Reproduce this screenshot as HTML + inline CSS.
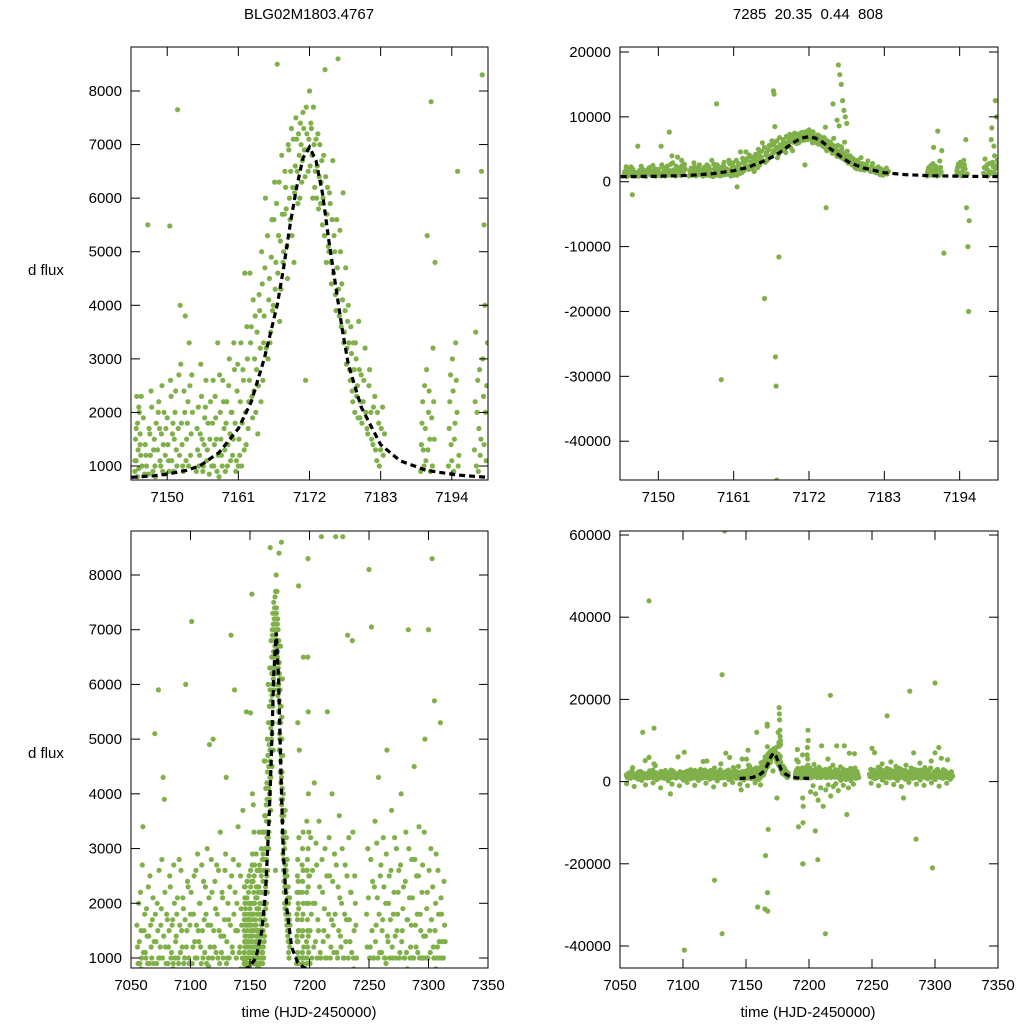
<!DOCTYPE html>
<html><head><meta charset="utf-8">
<style>
html,body{margin:0;padding:0;background:#fff;width:1024px;height:1024px;overflow:hidden;}
svg{display:block;font-family:"Liberation Sans",sans-serif;}
text{font-size:15px;fill:#000;}
</style></head>
<body>
<svg id="chart" width="1024" height="1024" viewBox="0 0 1024 1024">
<rect width="1024" height="1024" fill="#fff"/>
<text x="309" y="19" text-anchor="middle">BLG02M1803.4767</text>
<text x="808" y="19" text-anchor="middle" xml:space="preserve">7285  20.35  0.44  808</text>
<text x="28" y="275">d flux</text>
<text x="28" y="758">d flux</text>
<text x="309" y="1017" text-anchor="middle">time (HJD-2450000)</text>
<text x="808" y="1017" text-anchor="middle">time (HJD-2450000)</text>
</svg>
<script>
const peakObs = [
7145.0,900,7145.1,1500,7145.2,1100,7145.3,2300,7145.4,1800,7145.5,1300,7145.6,950,7145.7,2000,7145.8,1600,7145.9,1200,7146.0,2300,
7146.5,850,7146.6,1400,7146.8,1000,7147.0,5500,7147.2,1700,7147.4,1200,7147.6,2100,7147.8,900,7148.0,1500,7148.2,800,
7148.5,1300,7148.6,2000,7148.8,1700,7149.0,1000,7149.2,2500,7149.4,1400,7149.6,850,7149.8,1700,
7150.0,1900,7150.2,1100,7150.4,5480,7150.6,2300,7150.8,1600,7151.0,900,7151.2,2000,7151.4,1300,7151.6,7650,7151.8,2700,
7152.0,4000,7152.2,1800,7152.4,1000,7152.6,2400,7152.8,3800,7153.0,1500,7153.2,2200,7153.4,3300,7153.6,1200,7153.8,2700,
7154.5,900,7154.6,1700,7154.8,2100,7155.0,1200,7155.2,2900,7155.4,1500,7155.6,1000,7155.8,1900,7156.0,2600,7156.2,1300,
7156.5,850,7156.7,2200,7157.0,1800,7157.2,1000,7157.4,2300,7157.6,1500,7157.8,3300,7158.0,800,7158.2,2000,7158.4,1200,7158.6,2600,7158.8,1700,
7159.0,900,7159.2,2200,7159.4,1400,7159.6,3000,7159.8,1100,7160.0,2000,7160.2,1500,7160.4,2800,7160.6,900,7160.8,2400,7161.0,1000,
7161.2,1200,7161.4,3300,7161.6,1800,7161.8,2600,7162.0,4600,7162.2,1400,7162.4,3000,7162.6,2200,7162.8,4600,7163.0,3600,7163.2,1900,
7163.4,2400,7163.6,3800,7163.8,2800,7164.0,1600,7164.2,4200,7164.4,3200,7164.6,5000,7164.8,2600,7165.0,3800,7165.2,6000,
7165.6,3000,7165.8,4500,7166.0,3500,7166.2,5600,7166.4,4000,7166.6,6300,7166.8,4800,7167.0,8500,7167.2,5300,7167.4,3700,7167.6,4300,7167.8,5700,
7168.0,5000,7168.2,6500,7168.4,5800,7168.6,4500,7168.8,6900,7169.0,5600,7169.2,7300,7169.4,6200,7169.6,4800,7169.8,6600,
7170.0,7100,7170.2,5900,7170.4,6800,7170.6,7400,7170.8,6300,7171.0,7600,7171.2,6900,7171.4,2600,7171.6,7200,7171.8,6500,
7172.0,8000,7172.2,7400,7172.4,6800,7172.6,7700,7172.8,6200,7173.0,7100,7173.2,6600,7173.4,5800,7173.6,7000,7173.8,6300,
7174.0,5500,7174.2,6800,7174.4,8400,7174.6,4800,7174.8,6200,7175.0,5000,7175.2,5900,7175.4,4400,7175.6,6700,7175.8,5300,
7176.0,4200,7176.2,5600,7176.4,8600,7176.6,3800,7176.8,5000,7177.0,4400,7177.2,6100,7177.4,3500,7177.6,4700,7177.8,3200,
7178.0,4000,7178.2,2800,7178.4,3600,7178.6,2400,7178.8,3300,7179.0,2000,7179.2,3000,7179.4,2500,7179.6,3700,7179.8,1900,
7180.0,2700,7180.3,2200,7180.6,3200,7180.9,1700,7181.2,2500,7181.5,2000,7181.8,1400,7182.1,2300,7182.4,1100,7182.7,1800,7183.0,1300,7183.3,2100,7183.6,1600,
7189.2,900,7189.4,1800,7189.6,1300,7189.8,2500,7190.0,1100,7190.2,5300,7190.4,2000,7190.6,1500,7190.8,7800,7191.0,1000,7191.2,2200,7191.4,4800,
7193.5,1000,7193.7,2200,7193.9,1400,7194.1,3000,7194.3,900,7194.5,1800,7194.7,2600,7194.9,6500,7195.1,1200,
7197.5,1300,7197.7,3500,7197.9,2000,7198.1,900,7198.3,2800,7198.5,1500,7198.7,8300,7198.9,2300,7199.1,4000,7199.3,1100,7199.5,3300,7199.0,5500,7198.6,6500
];
const peakObs2 = [
7145.0,1100,7145.2,1700,7145.4,800,7145.6,2100,7145.8,1400,7146.1,1000,7146.3,1900,7146.7,1200,7147.1,850,7147.3,1600,7147.5,2400,7147.9,1300,7148.1,1000,7148.3,1800,7148.7,2200,7148.9,1100,7149.1,1600,7149.3,900,7149.5,2000,7149.7,1200,
7150.1,1400,7150.3,900,7150.5,2600,7150.7,1100,7150.9,1800,7151.1,1500,7151.3,2400,7151.5,1000,7151.7,1700,7151.9,1200,7152.1,2900,7152.3,1400,7152.5,900,7152.7,2000,7152.9,1100,7153.1,1800,7153.3,1000,7153.5,2500,7153.7,1600,7153.9,2000,
7154.7,1300,7154.9,1000,7155.1,1600,7155.3,2300,7155.5,900,7155.7,1400,7155.9,2100,7156.1,1100,7156.3,1800,7156.6,1500,7156.9,1000,7157.1,2600,7157.3,1400,7157.5,1900,7157.7,900,7157.9,1200,7158.1,2700,7158.3,1500,7158.5,1000,7158.7,2200,7158.9,1300,
7159.1,1800,7159.3,1000,7159.5,2500,7159.7,1600,7159.9,2000,7160.1,1200,7160.3,3300,7160.5,1800,7160.7,1100,7160.9,2900,7161.1,1500,7161.3,2200,7161.5,1000,7161.7,2800,7161.9,1300,7162.1,2000,7162.3,3600,7162.5,1700,7162.7,2600,7162.9,3300,
7163.1,2300,7163.3,4100,7163.5,3000,7163.7,2000,7163.9,3500,7164.1,2500,7164.3,3900,7164.5,2200,7164.7,4400,7164.9,3300,7165.1,4700,7165.3,3200,7165.5,5300,7165.7,4100,7165.9,3300,7166.1,4900,7166.3,3900,7166.5,5600,7166.7,4300,7166.9,5900,
7167.1,4600,7167.3,6300,7167.5,5200,7167.7,6800,7167.9,4800,7168.1,5700,7168.3,6200,7168.5,5100,7168.7,7000,7168.9,6000,7169.1,6500,7169.3,5300,7169.5,7100,7169.7,6100,7169.9,7500,7170.1,6500,7170.3,7200,7170.5,6000,7170.7,7000,7170.9,6700,
7171.1,7300,7171.3,6400,7171.5,7700,7171.7,6900,7171.9,7100,7172.1,6600,7172.3,7300,7172.5,6000,7172.7,7000,7172.9,6500,7173.1,6000,7173.3,7200,7173.5,6400,7173.7,5900,7173.9,6700,7174.1,6000,7174.3,5300,7174.5,6400,7174.7,5700,7174.9,5100,
7175.1,6100,7175.3,4800,7175.5,5600,7175.7,4600,7175.9,5000,7176.1,3900,7176.3,4700,7176.5,4300,7176.7,5400,7176.9,3600,7177.1,4100,7177.3,3300,7177.5,3900,7177.7,2900,7177.9,3700,7178.1,3300,7178.3,2600,7178.5,3100,7178.7,2200,7178.9,2800,
7179.1,3300,7179.3,2300,7179.5,1900,7179.7,2800,7179.9,2200,7180.1,1800,7180.4,2600,7180.7,2000,7181.0,1600,7181.3,2800,7181.6,1500,7181.9,2100,7182.2,1300,7182.5,2000,7182.8,1000,7183.1,1700,7183.4,1200,
7189.3,1400,7189.5,2200,7189.7,1000,7189.9,1700,7190.1,2800,7190.3,1300,7190.5,2400,7190.7,900,7190.9,1900,7191.1,3200,7191.3,1500,7193.6,1700,7193.8,2700,7194.0,1100,7194.2,2400,7194.4,1500,7194.6,3300,7194.8,2000,7195.0,1000,
7197.6,2200,7197.8,1000,7198.0,2600,7198.2,1700,7198.4,1200,7198.8,3000,7199.0,1400,7199.2,2000,7199.4,2500
];
const peakOutliers = [
7165.5,-18000,7166.8,14000,7166.9,13500,7167.1,-27000,7167.2,-31500,7167.3,-46000,7167.6,-11600,7159.2,-30500,7158.5,12000,
7176.3,18000,7176.5,16500,7176.7,15000,7176.9,12500,7177.1,11000,7177.3,10000,7176.1,9500,7177.5,9000,7175.5,12000,7174.5,-4000,
7191.7,-11000,7195.3,-20000,7195.2,-10000,7195.4,-6000,7195.0,-4000,7199.2,12500,7199.4,10000,7146.2,-2000,7161.5,-800
];
const seasonObs = [
7055,1600,7056,900,7057,1300,7058,2200,7059,1000,7060,3400,7061,1500,7062,1100,7063,1900,7064,900,7065,1400,7066,2500,7067,1200,7068,1700,7069,900,
7070,5100,7071,1300,7072,2000,7073,5900,7074,1000,7075,1600,7076,2800,7077,4300,7078,3900,7079,1200,7080,1800,7081,900,7082,1500,7083,2300,7084,1100,
7085,1700,7086,2700,7087,1000,7088,1400,7089,2100,7090,900,7091,1600,7092,2600,7093,1200,7094,1900,7095,1000,7096,6000,7097,1500,7098,2300,7099,900,
7100,1800,7101,7150,7102,1200,7103,2500,7104,1000,7105,1600,7106,2900,7107,1300,7108,2000,7109,900,7110,1500,7111,2400,7112,1100,7113,1800,7114,3000,
7115,1000,7116,4900,7117,1600,7118,2200,7119,5000,7120,1200,7121,1900,7122,2700,7123,1000,7124,1500,7125,3300,7126,1100,7127,2100,7128,1400,7129,2600,
7130,4300,7131,1000,7132,1700,7133,2300,7134,6900,7135,1200,7136,2800,7137,5900,7138,1500,7139,2000,7140,3400,7141,1100,7142,2500,7143,1600,7144,3700,
7200,2500,7200.5,1500,7201,3200,7202,1000,7203,2000,7204,4200,7205,1300,7206,2700,7207,1700,7208,3500,7209,1100,7210,8700,7211,2200,7212,1500,
7213,3000,7214,1000,7215,5500,7216,1800,7217,2500,7218,1200,7219,4000,7220,1600,7221,2900,7222,8700,7223,1100,7224,2300,7225,3600,7226,1400,7227,2000,
7228,8700,7229,1000,7230,2700,7231,1700,7232,6900,7233,3200,7234,1300,7235,2200,7236,6800,7237,1000,7238,2500,7239,1600,
7248,1800,7249,3000,7250,8100,7251,1200,7252,7050,7253,2400,7254,1000,7255,3500,7256,1600,7257,2100,7258,4300,7259,1100,7260,2700,7261,1500,
7262,3200,7263,1000,7264,2000,7265,4800,7266,1300,7267,2500,7268,1700,7269,3700,7270,1000,7271,2200,7272,1400,7273,3000,7274,1800,7275,2600,
7276,1100,7277,4000,7278,1500,7279,2300,7280,1000,7281,3300,7282,1700,7283,7000,7284,2100,7285,1200,7286,2800,7287,1000,7288,4500,7289,1600,
7290,2500,7291,1100,7292,3400,7293,1800,7294,1000,7295,2700,7296,1400,7297,5000,7298,1000,7299,2200,7300,7000,7301,1500,7302,3000,7303,8300,
7304,1200,7305,5700,7306,2000,7307,1000,7308,2600,7309,1300,7310,5300,7311,1800,7312,1000,7313,2400,7314,1300
];
const seasonObs2 = [
7055.5,1200,7056.5,2000,7057.5,900,7058.5,1500,7059.5,2700,7060.5,1100,7061.5,1800,7062.5,1000,7063.5,1400,7064.5,2300,7065.5,900,7066.5,1600,7067.5,1000,7068.5,2100,7069.5,1300,7070.5,1800,7071.5,900,7072.5,1500,7073.5,2600,7074.5,1200,
7075.5,1900,7076.5,1000,7077.5,1400,7078.5,2200,7079.5,900,7080.5,1700,7081.5,1200,7082.5,2500,7083.5,1000,7084.5,1600,7085.5,900,7086.5,2000,7087.5,1300,7088.5,1800,7089.5,1000,7090.5,2800,7091.5,1100,7092.5,1500,7093.5,2100,7094.5,900,
7095.5,1700,7096.5,1200,7097.5,2400,7098.5,1000,7099.5,1600,7100.5,2200,7101.5,900,7102.5,1800,7103.5,1300,7104.5,2600,7105.5,1000,7106.5,1500,7107.5,2000,7108.5,1200,7109.5,2700,7110.5,1000,7111.5,1700,7112.5,2300,7113.5,900,7114.5,1600,
7115.5,2100,7116.5,1200,7117.5,2800,7118.5,1000,7119.5,1500,7120.5,2400,7121.5,1100,7122.5,1800,7123.5,2600,7124.5,900,7125.5,1400,7126.5,2200,7127.5,1000,7128.5,1700,7129.5,2900,7130.5,1300,7131.5,2000,7132.5,1000,7133.5,1600,7134.5,2500,
7135.5,1100,7136.5,1800,7137.5,2200,7138.5,1000,7139.5,1500,7140.5,2700,7141.5,1200,7142.5,1900,7143.5,1000,
7200.5,900,7201.5,1800,7202.5,2600,7203.5,1200,7204.5,2000,7205.5,3100,7206.5,1000,7207.5,1500,7208.5,2300,7209.5,1000,7210.5,2800,7211.5,1300,7212.5,1900,7213.5,1000,7214.5,2500,7215.5,1400,7216.5,3200,7217.5,1000,7218.5,1700,7219.5,2400,
7220.5,1100,7221.5,1800,7222.5,2700,7223.5,1000,7224.5,1500,7225.5,2100,7226.5,1200,7227.5,3000,7228.5,1000,7229.5,1800,7230.5,1300,7231.5,2500,7232.5,1000,7233.5,1700,7234.5,2200,7235.5,1100,7236.5,3300,7237.5,1500,7238.5,2000,7239.5,1000,
7248.5,1200,7249.5,2100,7250.5,1000,7251.5,2800,7252.5,1500,7253.5,1000,7254.5,2300,7255.5,1300,7256.5,3100,7257.5,1000,7258.5,1800,7259.5,2500,7260.5,1100,7261.5,1700,7262.5,2300,7263.5,1000,7264.5,2900,7265.5,1400,7266.5,2000,7267.5,1000,
7268.5,2600,7269.5,1200,7270.5,1800,7271.5,3200,7272.5,1000,7273.5,1500,7274.5,2200,7275.5,1000,7276.5,2700,7277.5,1300,7278.5,1900,7279.5,1000,7280.5,2400,7281.5,1100,7282.5,1700,7283.5,3000,7284.5,1000,7285.5,1600,7286.5,2100,7287.5,1000,
7288.5,2800,7289.5,1200,7290.5,1800,7291.5,2500,7292.5,1000,7293.5,1500,7294.5,2200,7295.5,1000,7296.5,3300,7297.5,1400,7298.5,1900,7299.5,1000,7300.5,2600,7301.5,1100,7302.5,1700,7303.5,2300,7304.5,1000,7305.5,1500,7306.5,2900,7307.5,1200,
7308.5,1800,7309.5,1000,7310.5,2100,7311.5,1300,7312.5,1000,7313.5,1600
];
const seasonObs3 = [
7055.25,-500,7058.25,800,7061.25,-1200,7064.25,600,7067.25,300,7070.25,-800,7073.25,1000,7076.25,-300,7079.25,500,7082.25,-1500,7085.25,800,7088.25,200,7091.25,-600,7094.25,900,7097.25,-1000,7100.25,400,7103.25,-200,7106.25,700,7109.25,-900,7112.25,300,
7115.25,850,7118.25,-400,7121.25,600,7124.25,-1300,7127.25,200,7130.25,900,7133.25,-700,7136.25,500,7139.25,-200,7142.25,800,7145.25,-600,7148.25,400,7151.25,-1000,7154.25,700,7157.25,-300,7160.25,500,
7201.25,-2500,7203.25,-1000,7205.25,-3000,7207.25,-4500,7209.25,-1500,7211.25,-6000,7213.25,-2000,7215.25,-800,7217.25,-3500,7219.25,-1200,7221.25,-500,7223.25,-2200,7225.25,300,7227.25,-900,7229.25,500,7231.25,-1500,7233.25,200,7235.25,-600,7237.25,800,
7249.25,-400,7252.25,700,7255.25,-1000,7258.25,400,7261.25,-300,7264.25,900,7267.25,-700,7270.25,300,7273.25,-1200,7276.25,600,7279.25,-200,7282.25,800,7285.25,-600,7288.25,400,7291.25,-900,7294.25,700,7297.25,-300,7300.25,500,7303.25,-1100,7306.25,800,7309.25,-400,7312.25,600
];
const seasonOutliers = [
7073,44000,7133,61000,7131,26000,7125,-24000,7101,-41000,7131,-37000,7165,-31000,7213,-37000,7207,-19000,7217,21000,
7280,22000,7300,24000,7298,-21000,7262,16000,7275,-4000,7205,-12000,7195,-20000,7077,13000,7068,12000,7090,-3000,7230,-8000,7285,-14000
];
const modelT = [7144.5,7148,7150,7153,7155,7158,7161,7163,7165,7167,7168,7169,7170,7171,7172,7173,7174,7175,7176,7177,7178,7180,7183,7186,7190,7195,7199.5];
const modelF = [790,820,850,920,1000,1250,1700,2200,3000,4000,4700,5500,6200,6750,6950,6700,6100,5200,4400,3600,2900,2100,1400,1100,920,830,790];
const modelTWide = [7145,7150,7155,7160,7163,7166,7168,7170,7172,7174,7176,7178,7181,7185,7190,7195,7200];
const modelFWide = [780,850,1000,1500,2200,3500,4700,6200,6950,6100,4400,2900,1900,1200,920,830,790];

const topLeftYTicks=[1000,2000,3000,4000,5000,6000,7000,8000];
const topXTicks=[7150,7161,7172,7183,7194];
const topRightYTicks=[-40000,-30000,-20000,-10000,0,10000,20000];
const botXTicks=[7050,7100,7150,7200,7250,7300,7350];
const botLeftYTicks=[1000,2000,3000,4000,5000,6000,7000,8000];
const botRightYTicks=[-40000,-20000,0,20000,40000,60000];

const NS="http://www.w3.org/2000/svg";
const svg=document.getElementById('chart');
function mk(tag,attrs,parent){const e=document.createElementNS(NS,tag);for(const k in attrs)e.setAttribute(k,attrs[k]);(parent||svg).appendChild(e);return e;}

function panel(id,box,xr,yr,xt,yt,sets,mT,mF){
  const [x0,y0,x1,y1]=box;
  const sx=v=>x0+(v-xr[0])/(xr[1]-xr[0])*(x1-x0);
  const sy=v=>y1-(v-yr[0])/(yr[1]-yr[0])*(y1-y0);
  const cp=mk('clipPath',{id:'clip-'+id});
  mk('rect',{x:x0,y:y0,width:x1-x0,height:y1-y0},cp);
  const g=mk('g',{'clip-path':'url(#clip-'+id+')'});
  
  
  sets.forEach(arr=>{
    for(let i=0;i<arr.length;i+=2){
      const t=arr[i],f=arr[i+1];
      if(t<xr[0]-1||t>xr[1]+1)continue;
      const c=mk('circle',{cx:sx(t).toFixed(1),cy:sy(f).toFixed(1),r:2.6,fill:'#80b04a'},g);
      
      
    }
  });
  const d=mT.map((t,i)=>(i?'L':'M')+sx(t).toFixed(1)+','+sy(mF[i]).toFixed(1)).join('');
  const p=mk('path',{d:d,fill:'none',stroke:'#000','stroke-width':3.2,'stroke-dasharray':'6,4'},g);
  
  
  const fr=mk('rect',{x:x0,y:y0,width:x1-x0,height:y1-y0,fill:'none',stroke:'#000','stroke-width':1});
  
  
  xt.forEach(v=>{
    const x=sx(v);
    mk('line',{x1:x,x2:x,y1:y1,y2:y1-9,stroke:'#000'});
    mk('line',{x1:x,x2:x,y1:y0,y2:y0+9,stroke:'#000'});
    const tx=mk('text',{x:x,y:y1+22,'text-anchor':'middle'});tx.textContent=v;
    
    
  });
  yt.forEach(v=>{
    const y=sy(v);
    mk('line',{x1:x0,x2:x0+9,y1:y,y2:y,stroke:'#000'});
    mk('line',{x1:x1,x2:x1-9,y1:y,y2:y,stroke:'#000'});
    const tx=mk('text',{x:x0-9,y:y+5,'text-anchor':'end'});tx.textContent=v;
    
    
  });
}
const topSets=[peakObs,peakObs2,peakOutliers];
const allSets=[seasonObs,seasonObs2,seasonObs3,seasonOutliers,peakObs,peakObs2,peakOutliers];
panel('top-left',[131,47,488,480],[7144.4,7199.6],[739,8821],topXTicks,topLeftYTicks,topSets,modelT,modelF);
panel('top-right',[620,47,998,480],[7144.4,7199.6],[-45980,20770],topXTicks,topRightYTicks,topSets,modelT,modelF);
panel('bottom-left',[131,531,488,968],[7050,7350],[817,8804],botXTicks,botLeftYTicks,allSets,modelTWide,modelFWide);
panel('bottom-right',[620,531,998,968],[7050,7350],[-45350,60970],botXTicks,botRightYTicks,allSets,modelTWide,modelFWide);
</script>
</body></html>
